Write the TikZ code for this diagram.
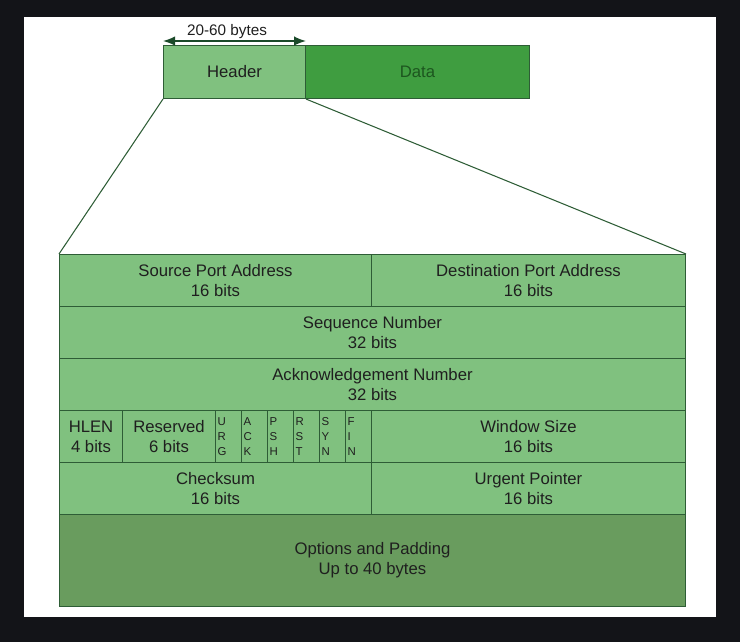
\documentclass[tikz,border=0pt]{standalone}
\usepackage{fontspec}
\setmainfont{Liberation Sans}
\usetikzlibrary{arrows.meta}
\definecolor{bgdark}{HTML}{131418}
\definecolor{fieldgreen}{HTML}{80C17F}
\definecolor{datagreen}{HTML}{3F9D40}
\definecolor{optgreen}{HTML}{699C5E}
\definecolor{fieldline}{HTML}{2E5D36}
\definecolor{fieldtext}{HTML}{1F1F1F}
\definecolor{datatext}{HTML}{1D561F}
\definecolor{arrowgreen}{HTML}{1B4A2A}

\begin{document}
\begin{tikzpicture}[x=0.02cm, y=-0.02cm]
    \fill[bgdark] (0,0) rectangle (740,642);
    \fill[white] (24,17) rectangle (716,617);
    \useasboundingbox (0,0) rectangle (740,642);

    \tikzset{FieldStyle/.style={draw=fieldline, fill=fieldgreen, text=fieldtext,
        line width=0.6pt, anchor=north west, inner sep=0pt, align=center,
        minimum height=1.04cm, font=\fontsize{9.5}{11.3}\selectfont}}
    \node[FieldStyle, minimum width=2.84cm, minimum height=1.06cm] (header) at (163,45) {Header};
    \node[FieldStyle, minimum width=4.48cm, minimum height=1.06cm, fill=datagreen, text=datatext] (data) at (305,45) {Data};

    \node[FieldStyle, minimum width=6.24cm]  (srcport) at (59,254)  {Source Port Address\\16 bits};
    \node[FieldStyle, minimum width=6.28cm]  (dstport) at (371,254) {Destination Port Address\\16 bits};
    \node[FieldStyle, minimum width=12.52cm] (seqnum)  at (59,306)  {Sequence Number\\32 bits};
    \node[FieldStyle, minimum width=12.52cm] (acknum)  at (59,358)  {Acknowledgement Number\\32 bits};
    \node[FieldStyle, minimum width=1.26cm]  (hlen)    at (59,410)  {HLEN\\4 bits};
    \node[FieldStyle, minimum width=1.86cm]  (reserved) at (122,410) {Reserved\\6 bits};

    \tikzset{FlagStyle/.style={FieldStyle, minimum width=0.52cm, text width=0.44cm,
        align=left, font=\fontsize{6.5}{8.5}\selectfont}}
    \node[FlagStyle] (urg) at (215,410) {U\\R\\G};
    \node[FlagStyle] (ack) at (241,410) {A\\C\\K};
    \node[FlagStyle] (psh) at (267,410) {P\\S\\H};
    \node[FlagStyle] (rst) at (293,410) {R\\S\\T};
    \node[FlagStyle] (syn) at (319,410) {S\\Y\\N};
    \node[FlagStyle] (fin) at (345,410) {F\\I\\N};

    \node[FieldStyle, minimum width=6.28cm]  (window)   at (371,410) {Window Size\\16 bits};
    \node[FieldStyle, minimum width=6.24cm]  (checksum) at (59,462)  {Checksum\\16 bits};
    \node[FieldStyle, minimum width=6.28cm]  (urgent)   at (371,462) {Urgent Pointer\\16 bits};
    \node[FieldStyle, minimum width=12.52cm, minimum height=1.84cm, fill=optgreen] (options) at (59,514) {Options and Padding\\Up to 40 bytes};

    \tikzset{ZoomStyle/.style={draw=fieldline, line width=0.6pt}}
    \draw[ZoomStyle] (header.south west) -- (srcport.north west);
    \draw[ZoomStyle] (header.south east) -- (dstport.north east);

    \tikzset{SizeStyle/.style={arrowgreen, line width=0.9pt, {Latex[length=2.4mm, width=1.9mm]}-{Latex[length=2.4mm, width=1.9mm]}}}
    \draw[SizeStyle] ([yshift=0.08cm]header.north west) -- ([yshift=0.08cm]header.north east);
    \node[text=fieldtext, font=\fontsize{8.7}{10}\selectfont, inner sep=0pt] (headerlen) at (227,32) {20-60 bytes};
\end{tikzpicture}
\end{document}
